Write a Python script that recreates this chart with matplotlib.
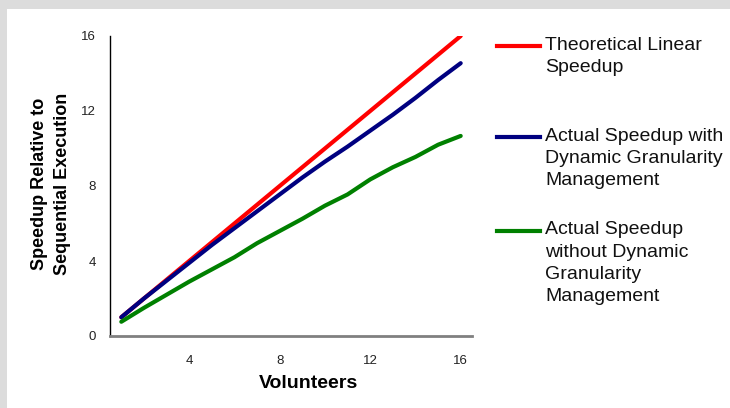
import numpy as np
import matplotlib.pyplot as plt
from matplotlib.lines import Line2D
from matplotlib.patches import Rectangle

plt.rcParams['font.family'] = ['Liberation Sans', 'DejaVu Sans']

volunteers = list(range(1, 17))
theoretical = [float(v) for v in volunteers]
with_dgm = [1.0, 2.0, 2.95, 3.9, 4.85, 5.75, 6.65, 7.55, 8.45, 9.3,
            10.1, 10.95, 11.8, 12.7, 13.65, 14.55]
without_dgm = [0.76, 1.5, 2.2, 2.9, 3.55, 4.2, 4.95, 5.6, 6.25, 6.95,
               7.55, 8.35, 9.0, 9.55, 10.2, 10.67]

series_labels = ["Theoretical Linear\nSpeedup",
                 "Actual Speedup with\nDynamic Granularity\nManagement",
                 "Actual Speedup\nwithout Dynamic\nGranularity\nManagement"]
series_colors = ["#ff0000", "#000080", "#008000"]
x_ticks = [4, 8, 12, 16]
y_ticks = [0, 4, 8, 12, 16]

W, H = 730, 408
fig = plt.figure(figsize=(W / 100, H / 100), dpi=100, facecolor="#dcdcdc")
fig.add_artist(Rectangle((7 / W, 0), 1, (H - 9) / H, transform=fig.transFigure,
                         facecolor="white", edgecolor="none", zorder=0))

ax = fig.add_axes([110 / W, 1 - 336 / H, (472 - 110) / W, 300 / H])
ax.set_facecolor("white")

for ys, c in zip([theoretical, with_dgm, without_dgm], series_colors):
    ax.plot(volunteers, ys, color=c, lw=3, solid_capstyle="round")

ax.set_xlim(0.5, 16.5)
ax.set_ylim(0, 16)
ax.set_xticks(x_ticks)
ax.set_yticks(y_ticks)
ax.tick_params(length=0, labelsize=9.5, labelcolor="#222222")
ax.tick_params(axis="x", pad=14)
ax.tick_params(axis="y", pad=10)
for s in ["top", "right"]:
    ax.spines[s].set_visible(False)
ax.spines["left"].set_color("black")
ax.spines["left"].set_linewidth(1)
ax.spines["bottom"].set_color("#808080")
ax.spines["bottom"].set_linewidth(2)

fig.text(308 / W, 1 - 383 / H, "Volunteers", ha="center", va="center",
         fontsize=14, fontweight="bold")
fig.text(51 / W, 1 - 184 / H, "Speedup Relative to\nSequential Execution",
         ha="center", va="center", rotation=90, fontsize=13,
         fontweight="bold", linespacing=1.4)

# legend drawn by hand so each handle sits on the first text line
handle_y = [45.5, 137, 230.5]
for y, c, lab in zip(handle_y, series_colors, series_labels):
    fig.add_artist(Line2D([497 / W, 540 / W], [1 - y / H, 1 - y / H],
                          transform=fig.transFigure, color=c, lw=3))
    fig.text(545 / W, 1 - (y - 9) / H, lab, ha="left", va="top",
             fontsize=14, color="#111111", linespacing=1.4)

fig.savefig("out.png", dpi=100, facecolor=fig.get_facecolor())
